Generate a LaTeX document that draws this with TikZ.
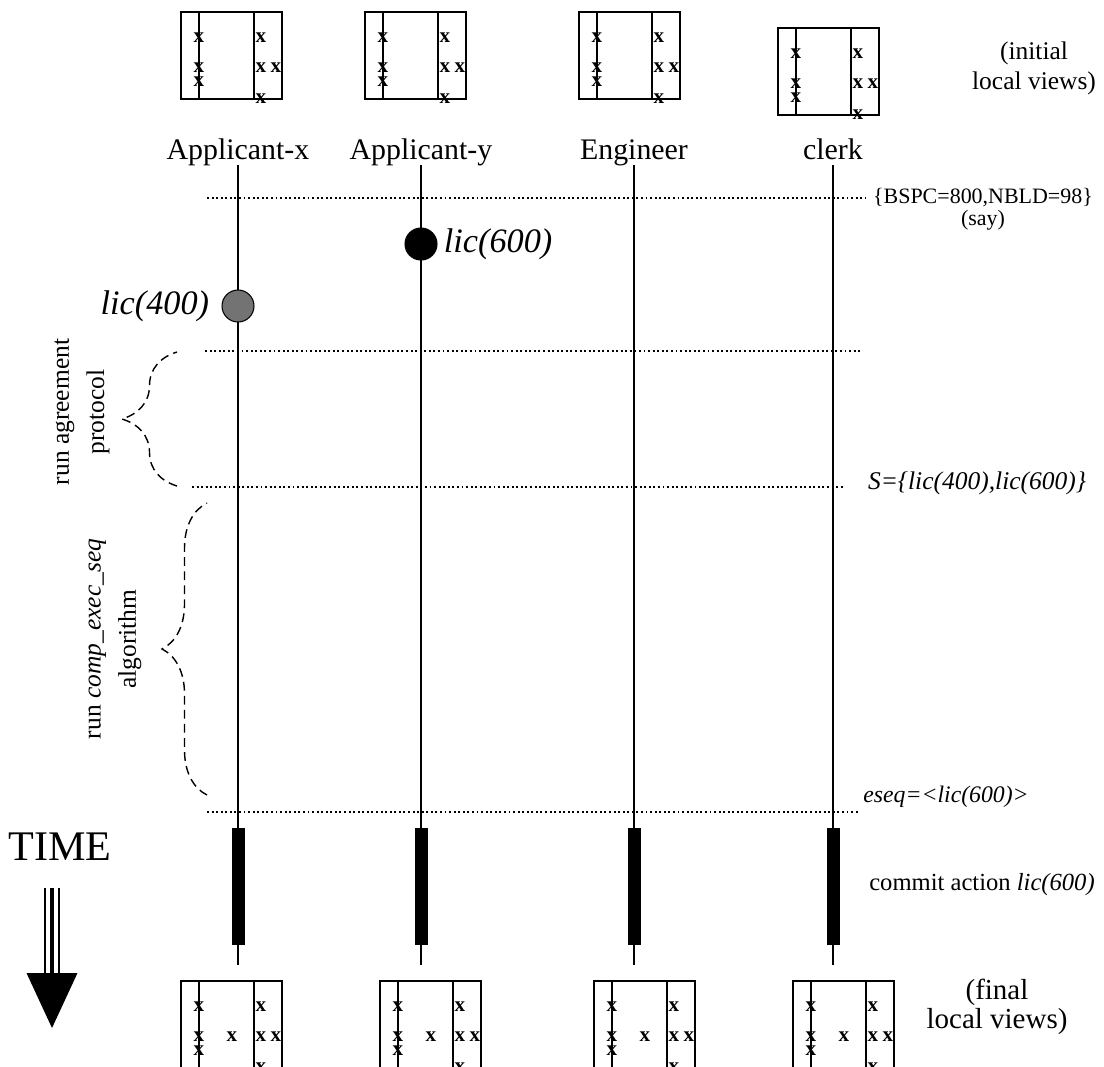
\documentclass[tikz,border=0pt]{standalone}
\usepackage{fontspec}
\setmainfont{Liberation Serif}
\usepackage{tikz}
\usetikzlibrary{positioning,calc,decorations.pathreplacing}

\newcommand{\fsz}[2]{\fontsize{#1}{#2}\selectfont}

% one local view: name, top-left corner, 1 if final (extra mark)
\newcommand{\localview}[3]{%
  \begin{scope}[shift={#2}]
    \node[viewbox] (#1) at (50.5,43.5) {};
    \draw[viewline] (18,0) -- (18,87);
    \draw[viewline] (73,0) -- (73,87);
    \foreach \mx/\my in {18/26,18/56,18/70,80/26,80/56,95/56,80/87}
      \node[xmark] at (\mx,\my) {x};
    \ifnum#3=1 \node[xmark] at (51,56) {x};\fi
  \end{scope}}

\begin{document}
\begin{tikzpicture}[
  x=0.02cm, y=-0.02cm,
  role/.style={font=\fsz{17}{20},inner sep=1pt,
               text height=0.7em,text depth=0.22em},
  lifeline/.style={line width=1pt},
  sync/.style={line width=1.3pt,dash pattern=on 1.1pt off 1.5pt},
  viewbox/.style={draw,line width=1.1pt,minimum width=2.02cm,
                  minimum height=1.74cm,inner sep=0pt},
  viewline/.style={line width=1.1pt},
  xmark/.style={font=\fsz{12}{12}\bfseries,inner sep=0pt},
  action/.style={circle,draw,line width=0.6pt,fill=black,
                 minimum size=0.64cm,inner sep=0pt},
  evlbl/.style={font=\fsz{19.5}{22}\itshape,inner sep=0pt},
  commit/.style={rectangle,fill=black,minimum width=0.26cm,
                 minimum height=2.34cm,inner sep=0pt},
  note/.style={font=\fsz{14}{17},align=center,inner sep=0pt},
  span/.style={decorate,line width=0.8pt,dash pattern=on 5pt off 3pt},
]
\useasboundingbox (0,0) rectangle (1104,1066);

%% Initial local views
\localview{iv1}{(181,12)}{0}
\localview{iv2}{(365,12)}{0}
\localview{iv3}{(579,12)}{0}
\localview{iv4}{(778,28)}{0}
\node[note,font=\fsz{14.5}{17}] (initlbl) at (1034,68) {(initial\\local views)};

%% Participants and lifelines
\node[role] (ax) at (238,155) {Applicant-x};
\node[role] (ay) at (421,155) {Applicant-y};
\node[role] (en) at (634,155) {Engineer};
\node[role] (cl) at (833,155) {clerk};
\foreach \p in {ax,ay,en,cl} {
  \coordinate (\p end) at (\p |- 0,965);
  \draw[lifeline] (\p.south) -- (\p end);
}

%% Synchronisation lines
\foreach \yy/\xa/\xb [count=\i] in {198/207/865,351/205/862,487/192/845,812/207/860} {
  \coordinate (sync\i w) at (\xa,\yy);
  \coordinate (sync\i e) at (\xb,\yy);
  \draw[sync] (sync\i w) -- (sync\i e);
}
\node[note,font=\fsz{12.5}{12.5}] (statelbl) at (983,209)
  {\{BSPC=800,NBLD=98\}\\(say)};

%% Submitted actions
\node[action] (e600) at (421,244) {};
\node[action,fill=black!55] (e400) at (238,306) {};
\node[evlbl,right=0.12cm of e600] (e600lbl) {lic(600)};
\node[evlbl,left=0.24cm of e400] (e400lbl) {lic(400)};

%% Agreement protocol
\draw[span,decoration={brace,amplitude=1.1cm}] (177,486) -- (177,352);
\node[note,font=\fsz{14.5}{20},rotate=90] (agreelbl) at (82,412)
  {run agreement\\protocol};
\node[note,font=\fsz{14.5}{17}\itshape] (setlbl) at (977,483)
  {S=\{lic(400),lic(600)\}};

%% Execution sequence
\draw[span,decoration={brace,amplitude=0.9cm}] (207,795) -- (207,503);
\node[note,font=\fsz{14.5}{20},rotate=90] (seqlbl) at (115,639)
  {run \textit{comp\_exec\_seq}\\algorithm};
\node[note,font=\fsz{13.5}{17}\itshape] (eseqlbl) at (946,797)
  {eseq=<lic(600)>};

%% Commit
\foreach \p in {ax,ay,en,cl}
  \node[commit] (\p c) at (\p |- 0,886) {};
\node[note] (commitlbl) at (982,885) {commit action \textit{lic(600)}};

%% Final local views
\localview{fv1}{(181,981)}{1}
\localview{fv2}{(380,981)}{1}
\localview{fv3}{(594,981)}{1}
\localview{fv4}{(793,981)}{1}
\node[note,font=\fsz{16.5}{16.5}] (finallbl) at (997,1007) {(final\\local views)};

%% Time arrow
\node[font=\fsz{24}{24},inner sep=0pt] (time) at (60,847) {TIME};
\coordinate (tshaft) at (52,888);
\coordinate (thead) at (52,973);
\coordinate (ttip) at (52,1028);
\draw[line width=0.7pt] ([xshift=-0.14cm]tshaft) -- ([xshift=-0.14cm]thead);
\draw[line width=0.7pt] ([xshift=0.14cm]tshaft) -- ([xshift=0.14cm]thead);
\draw[line width=2.8pt] (tshaft) -- (thead);
\fill ([xshift=-0.51cm]thead) -- ([xshift=0.51cm]thead) -- (ttip) -- cycle;

\end{tikzpicture}
\end{document}
